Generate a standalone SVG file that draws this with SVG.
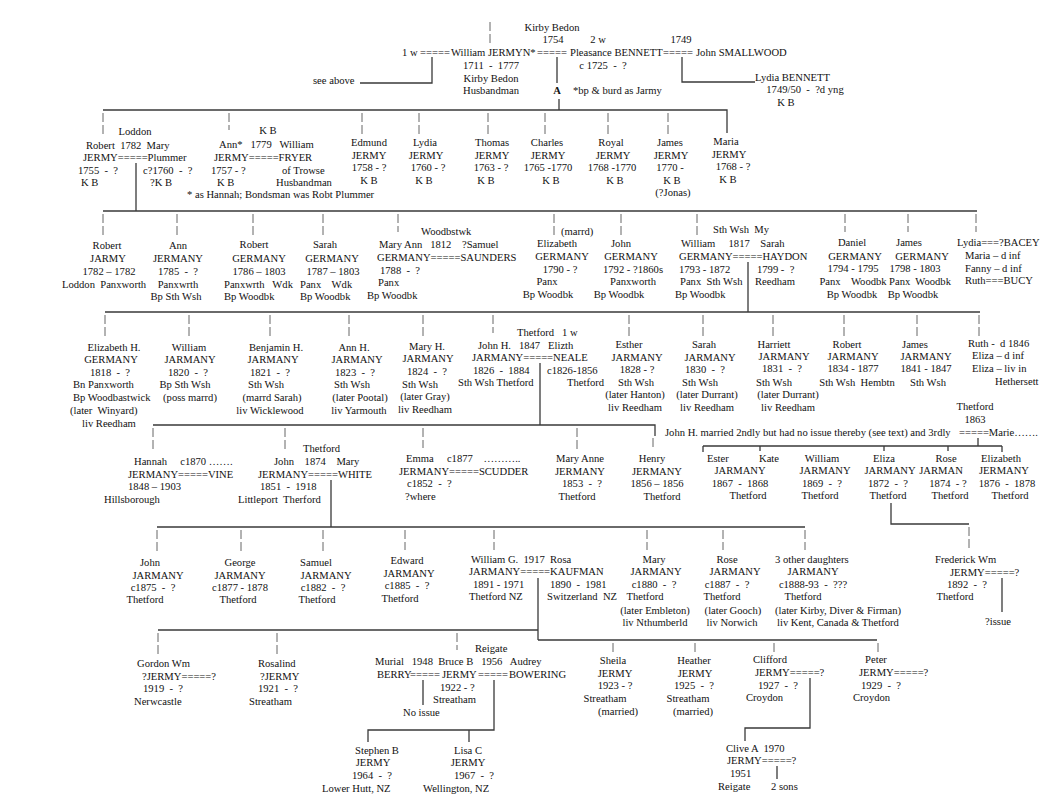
<svg xmlns="http://www.w3.org/2000/svg" width="1063" height="809" viewBox="0 0 1063 809" xml:space="preserve">
<style>
text{font-family:"Liberation Serif","Times New Roman",serif;font-size:10.6px;fill:#111;white-space:pre}
.m{text-anchor:middle}
.b{font-weight:bold}
.c{stroke:#3a3a3a;stroke-width:1.3;fill:none}
.d{stroke:#666;stroke-width:1;stroke-dasharray:9 3;fill:none}
</style>
<rect width="1063" height="809" fill="#fff"/>
<g id="connectors">
<line class="d" x1="490" y1="22" x2="490" y2="45"/>
<path class="c" d="M432 57V83H360"/>
<path class="c" d="M557 57V83M559 99V110"/>
<path class="c" d="M682 57V82H755"/>
<path class="c" d="M103 110H727V133"/>
<g class="d"><path d="M103 113V134M229 113V130M362 113V134M419 113V134M488 113V134M545 113V134M608 113V134M668 113V134"/></g>
<path class="c" d="M136 163V211M103 211H977"/>
<g class="d"><path d="M103 214V236M177 214V236M253 214V236M323 214V236M398 214V232M554 214V236M621 214V236M697 214V236M845 214V232M908 214V232M976 214V232"/></g>
<path class="c" d="M748 262V312M105 312H980"/>
<g class="d"><path d="M105 315V337M189 315V337M270 315V337M349 315V337M423 315V337M493 315V333M629 315V337M703 315V337M773 315V337M844 315V337M917 315V337M979 315V337"/></g>
<path class="c" d="M540 363V425M153 425H655V436"/>
<g class="d"><path d="M153 428V450M285 428V450M423 428V448M577 428V450M653 438V450"/></g>
<path class="c" d="M978 438V446M703 446H1002"/>
<path class="c" d="M703 446V452M760 446V451M884 446V451M948 446V451M1002 446V452"/>
<path class="c" d="M891 503V524H969"/>
<line class="d" x1="969" y1="527" x2="969" y2="548"/>
<path class="c" d="M1002 578V612"/>
<path class="c" d="M331 480V527M157 527H805"/>
<g class="d"><path d="M157 530V552M241 530V552M323 530V552M405 530V550M494 530V550M647 530V550M723 530V550M805 530V550"/></g>
<path class="c" d="M538 578V640M158 630H538M538 640H877"/>
<g class="d"><path d="M158 633V655M277 633V655M457 633V650M613 643V655M695 643V655M774 643V655M878 643V655"/></g>
<path class="c" d="M423 680V705M494 680V730H368V742M469 730V742"/>
<path class="c" d="M810 678V728H745V741"/>
<path class="c" d="M777 766V779"/>
</g>
<g id="william-jermyn">
<text class="m" x="552" y="31">Kirby Bedon</text>
<text class="m" x="553" y="43">1754</text>
<text class="m" x="598" y="43">2 w</text>
<text class="m" x="681" y="43">1749</text>
<text x="402" y="56">1 w</text>
<text x="420" y="56">=====</text>
<text x="451" y="56">William JERMYN*</text>
<text x="537" y="56">=====</text>
<text x="570" y="56">Pleasance BENNETT</text>
<text x="663" y="56">=====</text>
<text x="696" y="56">John SMALLWOOD</text>
<text class="m" x="491" y="69">1711  -  1777</text>
<text class="m" x="603" y="69">c 1725  -  ?</text>
<text class="m" x="491" y="82">Kirby Bedon</text>
<text class="m" x="491" y="94">Husbandman</text>
<text class="m b" x="557" y="94">A</text>
<text x="573" y="94">*bp &amp; burd as Jarmy</text>
<text x="313" y="84">see above</text>
</g>
<g id="lydia-bennett">
<text x="755" y="81">Lydia BENNETT</text>
<text class="m" x="805" y="93">1749/50  -  ?d yng</text>
<text class="m" x="786" y="106">K B</text>
</g>
<g id="robert-jermy">
<text class="m" x="135" y="135">Loddon</text>
<text x="86" y="149">Robert  1782  Mary</text>
<text x="83" y="161">JERMY=====Plummer</text>
<text x="78" y="174">1755  -  ?</text>
<text x="143" y="174">c?1760  -  ?</text>
<text x="81" y="186">K B</text>
<text x="150" y="186">?K B</text>
</g>
<g id="ann-jermy">
<text class="m" x="268" y="134">K B</text>
<text x="219" y="148">Ann*   1779   William</text>
<text x="214" y="161">JERMY=====FRYER</text>
<text x="211" y="174">1757 - ?</text>
<text x="282" y="174">of Trowse</text>
<text x="217" y="186">K B</text>
<text x="276" y="186">Husbandman</text>
<text x="187" y="198">* as Hannah; Bondsman was Robt Plummer</text>
</g>
<g id="edmund-jermy"><text class="m" x="369" y="146">Edmund</text><text class="m" x="369" y="159">JERMY</text><text class="m" x="369" y="171">1758 - ?</text><text class="m" x="369" y="184">K B</text></g>
<g id="lydia-jermy"><text class="m" x="425" y="146">Lydia</text><text class="m" x="426" y="159">JERMY</text><text class="m" x="428" y="171">1760 - ?</text><text class="m" x="424" y="184">K B</text></g>
<g id="thomas-jermy"><text class="m" x="492" y="146">Thomas</text><text class="m" x="492" y="159">JERMY</text><text class="m" x="491" y="171">1763 - ?</text><text class="m" x="486" y="184">K B</text></g>
<g id="charles-jermy"><text class="m" x="547" y="146">Charles</text><text class="m" x="548" y="159">JERMY</text><text class="m" x="548" y="171">1765 -1770</text><text class="m" x="551" y="184">K B</text></g>
<g id="royal-jermy"><text class="m" x="611" y="146">Royal</text><text class="m" x="613" y="159">JERMY</text><text class="m" x="612" y="171">1768 -1770</text><text class="m" x="615" y="184">K B</text></g>
<g id="james-jermy"><text class="m" x="670" y="146">James</text><text class="m" x="671" y="159">JERMY</text><text class="m" x="670" y="171">1770 -</text><text class="m" x="672" y="184">K B</text><text class="m" x="673" y="196">(?Jonas)</text></g>
<g id="maria-jermy"><text class="m" x="726" y="145">Maria</text><text class="m" x="729" y="158">JERMY</text><text class="m" x="733" y="170">1768 - ?</text><text class="m" x="728" y="183">K B</text></g>

<g id="robert-jarmy"><text class="m" x="107" y="249">Robert</text><text class="m" x="108" y="262">JARMY</text><text class="m" x="109" y="275">1782 – 1782</text><text x="62" y="288">Loddon  Panxworth</text></g>
<g id="ann-jermany"><text class="m" x="178" y="249">Ann</text><text class="m" x="178" y="262">JERMANY</text><text class="m" x="178" y="275">1785  -  ?</text><text class="m" x="178" y="288">Panxwrth</text><text class="m" x="176" y="300">Bp Sth Wsh</text></g>
<g id="robert-germany"><text class="m" x="254" y="248">Robert</text><text class="m" x="259" y="262">GERMANY</text><text class="m" x="259" y="275">1786 – 1803</text><text x="224" y="288">Panxwrth   Wdk</text><text x="224" y="300">Bp Woodbk</text></g>
<g id="sarah-germany"><text class="m" x="325" y="248">Sarah</text><text class="m" x="332" y="262">GERMANY</text><text class="m" x="333" y="275">1787 – 1803</text><text x="300" y="288">Panx    Wdk</text><text x="300" y="300">Bp Woodbk</text></g>
<g id="mary-ann-germany"><text x="421" y="235">Woodbstwk</text><text x="379" y="248">Mary Ann   1812    ?Samuel</text><text x="377" y="261">GERMANY=====SAUNDERS</text><text x="380" y="274">1788  -  ?</text><text x="378" y="286">Panx</text><text x="367" y="299">Bp Woodbk</text></g>
<g id="elizabeth-germany"><text x="561" y="235">(marrd)</text><text class="m" x="557" y="247">Elizabeth</text><text class="m" x="562" y="260">GERMANY</text><text class="m" x="560" y="273">1790 - ?</text><text class="m" x="547" y="285">Panx</text><text class="m" x="548" y="298">Bp Woodbk</text></g>
<g id="john-germany"><text class="m" x="621" y="247">John</text><text class="m" x="631" y="260">GERMANY</text><text class="m" x="633" y="273">1792 - ?1860s</text><text class="m" x="633" y="285">Panxworth</text><text class="m" x="619" y="298">Bp Woodbk</text></g>
<g id="william-germany"><text x="713" y="233">Sth Wsh  My</text><text x="681" y="247">William     1817    Sarah</text><text x="679" y="260">GERMANY=====HAYDON</text><text x="679" y="273">1793 - 1872</text><text x="757" y="273">1799 -  ?</text><text x="680" y="285">Panx  Sth Wsh</text><text x="755" y="285">Reedham</text><text x="675" y="298">Bp Woodbk</text></g>
<g id="daniel-germany"><text class="m" x="852" y="246">Daniel</text><text class="m" x="855" y="260">GERMANY</text><text class="m" x="853" y="272">1794 - 1795</text><text class="m" x="853" y="285">Panx    Woodbk</text><text class="m" x="852" y="298">Bp Woodbk</text></g>
<g id="james-germany"><text class="m" x="909" y="246">James</text><text class="m" x="922" y="260">GERMANY</text><text class="m" x="915" y="272">1798 - 1803</text><text class="m" x="920" y="285">Panx  Woodbk</text><text class="m" x="913" y="298">Bp Woodbk</text></g>
<g id="lydia-bacey"><text x="957" y="246">Lydia===?BACEY</text><text x="965" y="259">Maria – d inf</text><text x="965" y="272">Fanny – d inf</text><text x="965" y="284">Ruth===BUCY</text></g>

<g id="elizabeth-h-germany"><text class="m" x="114" y="351">Elizabeth H.</text><text class="m" x="111" y="363">GERMANY</text><text class="m" x="110" y="376">1818  -  ?</text><text x="73" y="388">Bn Panxworth</text><text x="73" y="401">Bp Woodbastwick</text><text x="70" y="414">(later  Winyard)</text><text x="82" y="427">liv Reedham</text></g>
<g id="william-jarmany"><text class="m" x="189" y="351">William</text><text class="m" x="190" y="363">JARMANY</text><text class="m" x="188" y="376">1820  -  ?</text><text class="m" x="185" y="388">Bp Sth Wsh</text><text class="m" x="190" y="401">(poss marrd)</text></g>
<g id="benjamin-jarmany"><text class="m" x="276" y="351">Benjamin H.</text><text class="m" x="273" y="363">JARMANY</text><text class="m" x="270" y="376">1821  -  ?</text><text class="m" x="266" y="388">Sth Wsh</text><text class="m" x="272" y="401">(marrd Sarah)</text><text class="m" x="270" y="414">liv Wicklewood</text></g>
<g id="ann-h-jarmany"><text class="m" x="354" y="351">Ann H.</text><text class="m" x="357" y="363">JARMANY</text><text class="m" x="355" y="376">1823  -  ?</text><text class="m" x="352" y="388">Sth Wsh</text><text class="m" x="360" y="401">(later Pootal)</text><text class="m" x="359" y="414">liv Yarmouth</text></g>
<g id="mary-h-jarmany"><text class="m" x="427" y="350">Mary H.</text><text class="m" x="428" y="362">JARMANY</text><text class="m" x="427" y="375">1824  -  ?</text><text class="m" x="420" y="388">Sth Wsh</text><text class="m" x="425" y="400">(later Gray)</text><text class="m" x="425" y="413">liv Reedham</text></g>
<g id="john-h-jarmany"><text x="517" y="336">Thetford   1 w</text><text x="478" y="349">John H.   1847   Elizth</text><text x="472" y="361">JARMANY=====NEALE</text><text x="473" y="374">1826  -  1884</text><text x="547" y="374">c1826-1856</text><text x="458" y="386">Sth Wsh Thetford</text><text x="567" y="386">Thetford</text></g>
<g id="esther-jarmany"><text class="m" x="629" y="348">Esther</text><text class="m" x="637" y="361">JARMANY</text><text class="m" x="637" y="373">1828 - ?</text><text class="m" x="636" y="386">Sth Wsh</text><text class="m" x="635" y="398">(later Hanton)</text><text class="m" x="635" y="411">liv Reedham</text></g>
<g id="sarah-jarmany"><text class="m" x="704" y="348">Sarah</text><text class="m" x="710" y="361">JARMANY</text><text class="m" x="705" y="373">1830  -  ?</text><text class="m" x="700" y="386">Sth Wsh</text><text class="m" x="707" y="398">(later Durrant)</text><text class="m" x="707" y="411">liv Reedham</text></g>
<g id="harriett-jarmany"><text class="m" x="774" y="348">Harriett</text><text class="m" x="784" y="360">JARMANY</text><text class="m" x="782" y="372">1831  -  ?</text><text class="m" x="774" y="386">Sth Wsh</text><text class="m" x="788" y="398">(later Durrant)</text><text class="m" x="788" y="411">liv Reedham</text></g>
<g id="robert-jarmany"><text class="m" x="847" y="348">Robert</text><text class="m" x="853" y="360">JARMANY</text><text class="m" x="853" y="372">1834 - 1877</text><text class="m" x="857" y="386">Sth Wsh  Hembtn</text></g>
<g id="james-jarmany"><text class="m" x="915" y="348">James</text><text class="m" x="926" y="360">JARMANY</text><text class="m" x="926" y="372">1841 - 1847</text><text class="m" x="928" y="386">Sth Wsh</text></g>
<g id="ruth-eliza"><text x="968" y="347">Ruth -  d 1846</text><text x="972" y="359">Eliza – d inf</text><text x="972" y="372">Eliza – liv in</text><text x="995" y="385">Hethersett</text></g>
<g id="marie"><text class="m" x="975" y="410">Thetford</text><text class="m" x="975" y="423">1863</text><text x="665" y="436">John H. married 2ndly but had no issue thereby (see text) and 3rdly</text><text x="959" y="436">=====Marie…….</text></g>

<g id="ester-kate"><text x="707" y="462">Ester</text><text x="759" y="462">Kate</text><text class="m" x="740" y="474">JARMANY</text><text class="m" x="740" y="487">1867  -  1868</text><text class="m" x="748" y="499">Thetford</text></g>
<g id="william-jarmany-1869"><text class="m" x="822" y="462">William</text><text class="m" x="825" y="474">JARMANY</text><text class="m" x="822" y="487">1869  -  ?</text><text class="m" x="820" y="499">Thetford</text></g>
<g id="eliza-jarmany"><text class="m" x="884" y="462">Eliza</text><text class="m" x="890" y="474">JARMANY</text><text class="m" x="888" y="487">1872  -  ?</text><text class="m" x="888" y="499">Thetford</text></g>
<g id="rose-jarman"><text class="m" x="946" y="462">Rose</text><text class="m" x="941" y="474">JARMAN</text><text class="m" x="948" y="487">1874  - ?</text><text class="m" x="950" y="499">Thetford</text></g>
<g id="elizabeth-jermany"><text class="m" x="1001" y="462">Elizabeth</text><text class="m" x="1004" y="474">JERMANY</text><text class="m" x="1007" y="487">1876  -  1878</text><text class="m" x="1010" y="499">Thetford</text></g>

<g id="hannah-jermany"><text x="134" y="465">Hannah     c1870 …….</text><text x="128" y="478">JERMANY=====VINE</text><text x="128" y="490">1848 – 1903</text><text x="104" y="503">Hillsborough</text></g>
<g id="john-jermany"><text x="303" y="452">Thetford</text><text x="274" y="465">John    1874    Mary</text><text x="258" y="478">JERMANY=====WHITE</text><text x="260" y="490">1851  -  1918</text><text x="238" y="503">Littleport  Therford</text></g>
<g id="emma-jermany"><text x="406" y="462">Emma     c1877    ………..</text><text x="399" y="475">JERMANY=====SCUDDER</text><text x="407" y="487">c1852  -  ?</text><text x="405" y="500">?where</text></g>
<g id="mary-anne-jermany"><text class="m" x="580" y="462">Mary Anne</text><text class="m" x="580" y="475">JERMANY</text><text class="m" x="582" y="487">1853  -  ?</text><text class="m" x="577" y="500">Thetford</text></g>
<g id="henry-jermany"><text class="m" x="652" y="462">Henry</text><text class="m" x="657" y="475">JERMANY</text><text class="m" x="657" y="487">1856 – 1856</text><text class="m" x="662" y="500">Thetford</text></g>

<g id="frederick-jermy"><text x="935" y="563">Frederick Wm</text><text x="950" y="576">JERMY=====?</text><text class="m" x="967" y="588">1892  -  ?</text><text class="m" x="955" y="600">Thetford</text><text x="985" y="625">?issue</text></g>

<g id="john-jarmany"><text class="m" x="150" y="566">John</text><text class="m" x="158" y="579">JARMANY</text><text class="m" x="153" y="591">c1875  -  ?</text><text class="m" x="145" y="603">Thetford</text></g>
<g id="george-jarmany"><text class="m" x="240" y="566">George</text><text class="m" x="240" y="579">JARMANY</text><text class="m" x="240" y="591">c1877 - 1878</text><text class="m" x="238" y="603">Thetford</text></g>
<g id="samuel-jarmany"><text class="m" x="316" y="566">Samuel</text><text class="m" x="326" y="579">JARMANY</text><text class="m" x="323" y="591">c1882  -  ?</text><text class="m" x="317" y="603">Thetford</text></g>
<g id="edward-jarmany"><text class="m" x="407" y="564">Edward</text><text class="m" x="409" y="577">JARMANY</text><text class="m" x="407" y="589">c1885  -  ?</text><text class="m" x="400" y="602">Thetford</text></g>
<g id="william-g-jarmany"><text x="471" y="563">William G.  1917  Rosa</text><text x="469" y="575">JARMANY=====KAUFMAN</text><text x="473" y="588">1891 - 1971</text><text x="550" y="588">1890  -  1981</text><text x="469" y="600">Thetford NZ</text><text x="547" y="600">Switzerland  NZ</text></g>
<g id="mary-jarmany"><text class="m" x="654" y="563">Mary</text><text class="m" x="656" y="575">JARMANY</text><text class="m" x="654" y="588">c1880  -  ?</text><text class="m" x="645" y="600">Thetford</text><text class="m" x="655" y="614">(later Embleton)</text><text class="m" x="655" y="626">liv Nthumberld</text></g>
<g id="rose-jarmany"><text class="m" x="727" y="563">Rose</text><text class="m" x="735" y="575">JARMANY</text><text class="m" x="727" y="588">c1887  -  ?</text><text class="m" x="722" y="600">Thetford</text><text class="m" x="733" y="614">(later Gooch)</text><text class="m" x="732" y="626">liv Norwich</text></g>
<g id="other-daughters"><text x="775" y="563">3 other daughters</text><text class="m" x="813" y="575">JARMANY</text><text class="m" x="813" y="588">c1888-93  -  ???</text><text class="m" x="803" y="600">Thetford</text><text x="775" y="614">(later Kirby, Diver &amp; Firman)</text><text x="777" y="626">liv Kent, Canada &amp; Thetford</text></g>

<g id="gordon-jermy"><text x="137" y="667">Gordon Wm</text><text x="142" y="680">?JERMY=====?</text><text x="143" y="692">1919  -  ?</text><text x="134" y="705">Nerwcastle</text></g>
<g id="rosalind-jermy"><text x="258" y="667">Rosalind</text><text x="260" y="680">?JERMY</text><text x="258" y="692">1921  -  ?</text><text x="249" y="705">Streatham</text></g>
<g id="bruce-jermy"><text x="475" y="652">Reigate</text><text x="375" y="665">Murial   1948  Bruce B   1956   Audrey</text><text x="377" y="678">BERRY</text><text x="410" y="678">=====</text><text x="442" y="678">JERMY</text><text x="478" y="678">=====</text><text x="509" y="678">BOWERING</text><text x="440" y="691">1922 - ?</text><text x="433" y="703">Streatham</text><text x="403" y="716">No issue</text></g>
<g id="stephen-jermy"><text class="m" x="377" y="754">Stephen B</text><text class="m" x="373" y="766">JERMY</text><text class="m" x="372" y="779">1964  -  ?</text><text x="322" y="792">Lower Hutt, NZ</text></g>
<g id="lisa-jermy"><text class="m" x="468" y="754">Lisa C</text><text class="m" x="468" y="766">JERMY</text><text class="m" x="474" y="779">1967  -  ?</text><text x="423" y="792">Wellington, NZ</text></g>
<g id="sheila-jermy"><text class="m" x="613" y="664">Sheila</text><text class="m" x="615" y="677">JERMY</text><text class="m" x="615" y="689">1923 - ?</text><text class="m" x="605" y="702">Streatham</text><text class="m" x="618" y="715">(married)</text></g>
<g id="heather-jermy"><text class="m" x="694" y="664">Heather</text><text class="m" x="695" y="677">JERMY</text><text class="m" x="694" y="689">1925  -  ?</text><text class="m" x="688" y="702">Streatham</text><text class="m" x="693" y="715">(married)</text></g>
<g id="clifford-jermy"><text x="753" y="663">Clifford</text><text x="755" y="676">JERMY=====?</text><text x="758" y="689">1927  -  ?</text><text x="746" y="701">Croydon</text></g>
<g id="peter-jermy"><text class="m" x="876" y="663">Peter</text><text x="859" y="676">JERMY=====?</text><text x="861" y="689">1929  -  ?</text><text x="853" y="701">Croydon</text></g>
<g id="clive-jermy"><text x="726" y="752">Clive A  1970</text><text x="727" y="764">JERMY=====?</text><text x="730" y="777">1951</text><text x="718" y="790">Reigate</text><text x="771" y="790">2 sons</text></g>
</svg>
